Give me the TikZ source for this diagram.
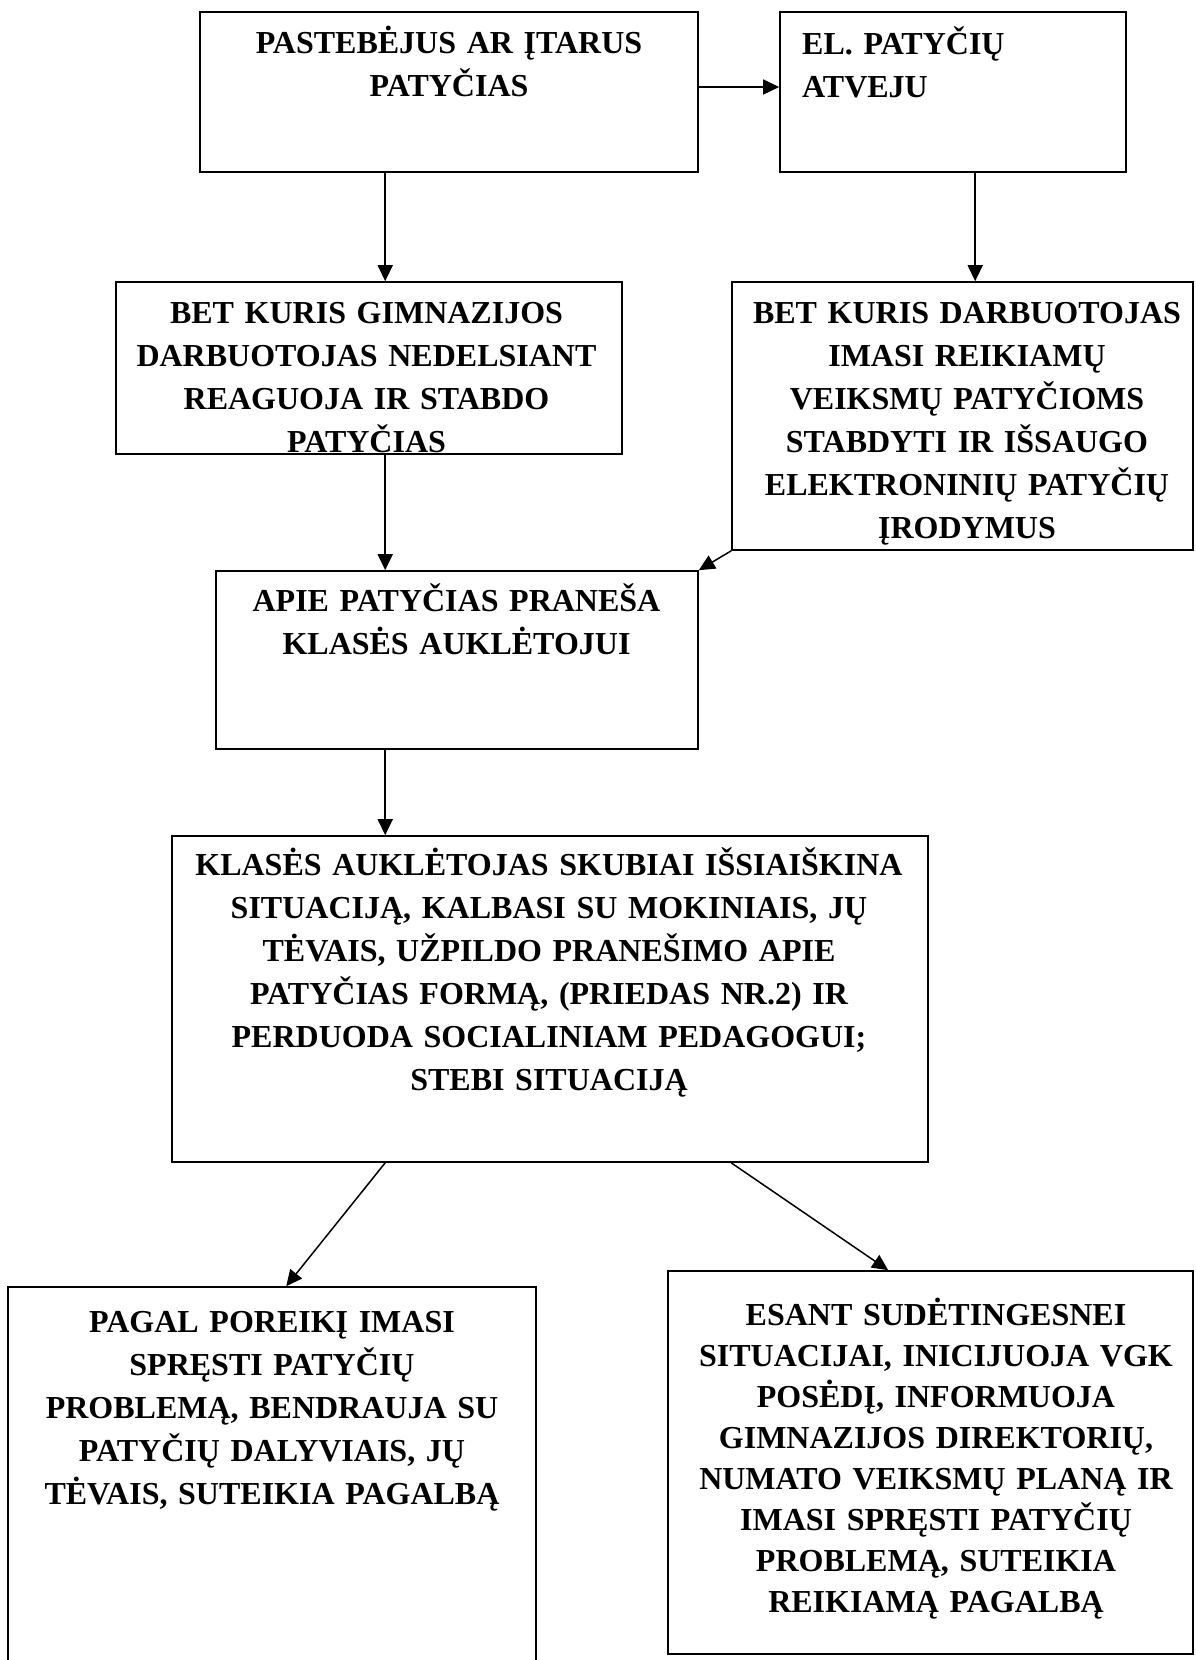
\documentclass[tikz,border=0pt]{standalone}
\usepackage{fontspec}
\setmainfont{Liberation Serif}
\usetikzlibrary{arrows.meta}
\begin{document}
\begin{tikzpicture}[x=1pt,y=-1pt,
  box/.style={draw, line width=1.6pt, rectangle, inner sep=0pt},
  txt/.style={anchor=base, inner sep=0pt, text width=800pt, align=center,
    font=\fontsize{32}{43}\selectfont\bfseries},
  conn/.style={line width=1.5pt, -{Triangle[length=16pt,width=15pt]}}]
\useasboundingbox (0,0) rectangle (1195,1660);
\clip (0,0) rectangle (1195,1660);
\fill[white] (0,0) rectangle (1195,1660);

% boxes
\node[box, minimum width=498pt, minimum height=160pt] (A) at (449,92) {};
\node[box, minimum width=346pt, minimum height=160pt] (C) at (953,92) {};
\node[box, minimum width=506pt, minimum height=172pt] (B) at (369,368) {};
\node[box, minimum width=461pt, minimum height=268pt] (D) at (962.5,416) {};
\node[box, minimum width=482pt, minimum height=178pt] (E) at (457,660) {};
\node[box, minimum width=756pt, minimum height=326pt] (F) at (550,999) {};
\node[box, minimum width=528pt, minimum height=394pt] (G) at (272,1484) {};
\node[box, minimum width=525pt, minimum height=383pt] (H) at (930.5,1462.5) {};

% texts
\node[txt] (tA) at (449,53) {PASTEBĖJUS AR ĮTARUS\\PATYČIAS};
\node[txt, anchor=base west, text width=340pt, align=left] (tC) at (802,54) {EL. PATYČIŲ\\ATVEJU};
\node[txt] (tB) at (366.5,323) {BET KURIS GIMNAZIJOS\\DARBUOTOJAS NEDELSIANT\\REAGUOJA IR STABDO\\PATYČIAS};
\node[txt] (tD) at (967,323) {BET KURIS DARBUOTOJAS\\IMASI REIKIAMŲ\\VEIKSMŲ PATYČIOMS\\STABDYTI IR IŠSAUGO\\ELEKTRONINIŲ PATYČIŲ\\ĮRODYMUS};
\node[txt] (tE) at (456.5,611) {APIE PATYČIAS PRANEŠA\\KLASĖS AUKLĖTOJUI};
\node[txt] (tF) at (549,875) {KLASĖS AUKLĖTOJAS SKUBIAI IŠSIAIŠKINA\\SITUACIJĄ, KALBASI SU MOKINIAIS, JŲ\\TĖVAIS, UŽPILDO PRANEŠIMO APIE\\PATYČIAS FORMĄ, (PRIEDAS NR.2) IR\\PERDUODA SOCIALINIAM PEDAGOGUI;\\STEBI SITUACIJĄ};
\node[txt] (tG) at (272,1332) {PAGAL POREIKĮ IMASI\\SPRĘSTI PATYČIŲ\\PROBLEMĄ, BENDRAUJA SU\\PATYČIŲ DALYVIAIS, JŲ\\TĖVAIS, SUTEIKIA PAGALBĄ};
\node[txt, font=\fontsize{32}{41}\selectfont\bfseries] (tH) at (936,1325) {ESANT SUDĖTINGESNEI\\SITUACIJAI, INICIJUOJA VGK\\POSĖDĮ, INFORMUOJA\\GIMNAZIJOS DIREKTORIŲ,\\NUMATO VEIKSMŲ PLANĄ IR\\IMASI SPRĘSTI PATYČIŲ\\PROBLEMĄ, SUTEIKIA\\REIKIAMĄ PAGALBĄ};

% connectors
\draw[conn] ([xshift=186pt]A.south west) -- ([xshift=270pt]B.north west);
\draw[conn] ([yshift=5pt]A.east) -- ([yshift=5pt]C.west);
\draw[conn] ([xshift=196pt]C.south west) -- ([xshift=244pt]D.north west);
\draw[conn] ([xshift=270pt]B.south west) -- ([xshift=170pt]E.north west);
\draw[conn] (D.south west) -- (E.north east);
\draw[conn] ([xshift=170pt]E.south west) -- ([xshift=214pt]F.north west);
\draw[conn] ([xshift=214pt]F.south west) -- ([xshift=279pt]G.north west);
\draw[conn] ([xshift=560pt]F.south west) -- ([xshift=221pt]H.north west);
\end{tikzpicture}
\end{document}
